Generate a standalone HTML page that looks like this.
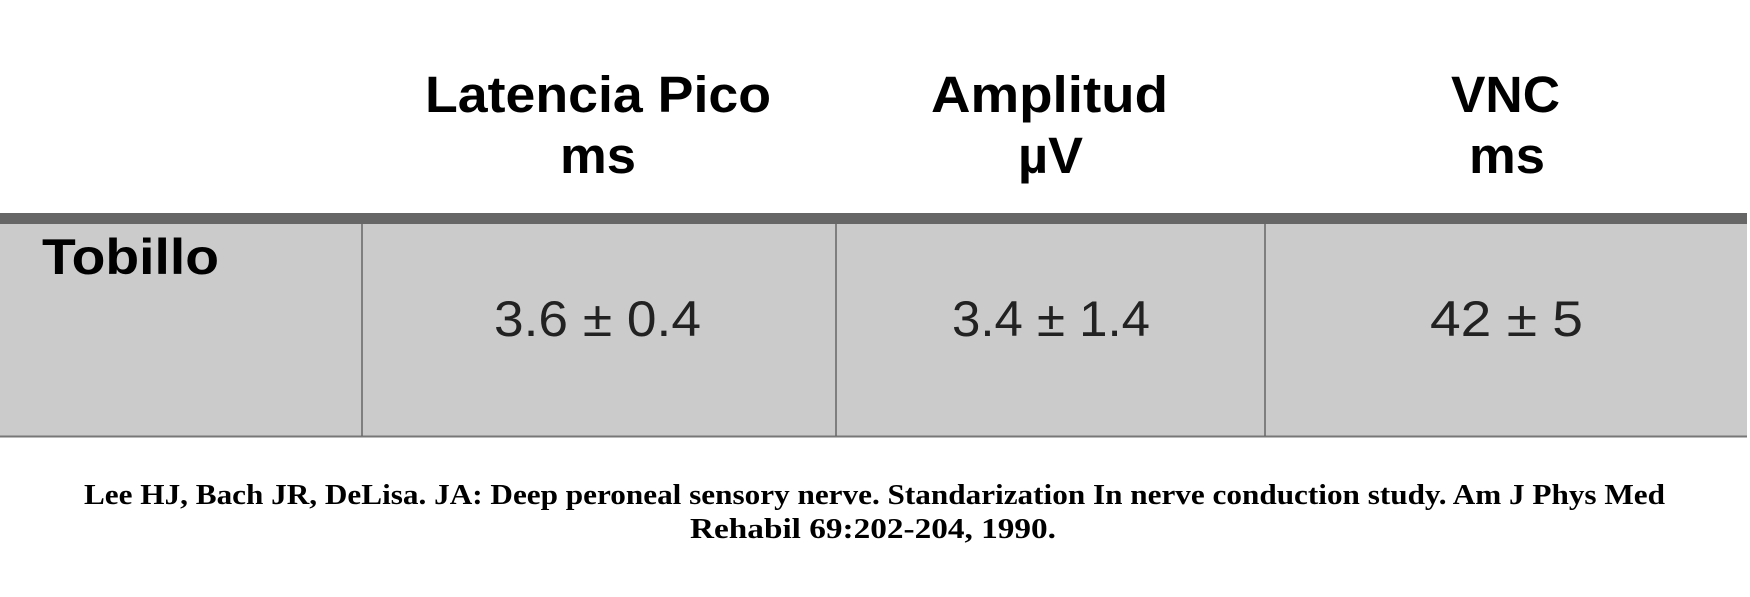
<!DOCTYPE html>
<html><head><meta charset="utf-8"><style>html,body{margin:0;padding:0;background:#fff;}svg{display:block;}</style></head>
<body>
<svg width="1750" height="597" viewBox="0 0 1750 597" xmlns="http://www.w3.org/2000/svg">
<rect x="0" y="213" width="1747" height="224" fill="#cbcbcb"/>
<rect x="0" y="213" width="1747" height="11" fill="#666"/>
<line x1="0" y1="436.5" x2="1747" y2="436.5" stroke="#777" stroke-width="2"/>
<g stroke="#666" stroke-width="1.5">
<line x1="362" y1="224" x2="362" y2="436"/><line x1="836" y1="224" x2="836" y2="436"/><line x1="1265" y1="224" x2="1265" y2="436"/>
</g>
<g font-family="Liberation Sans, sans-serif" font-weight="bold" font-size="51" fill="#000">
<text x="425" y="112" textLength="346" lengthAdjust="spacingAndGlyphs">Latencia Pico</text>
<text x="560" y="173" textLength="76" lengthAdjust="spacingAndGlyphs">ms</text>
<text x="931" y="112" textLength="237" lengthAdjust="spacingAndGlyphs">Amplitud</text>
<text x="1018" y="173" textLength="65" lengthAdjust="spacingAndGlyphs">µV</text>
<text x="1451" y="112" textLength="109" lengthAdjust="spacingAndGlyphs">VNC</text>
<text x="1469" y="173" textLength="76" lengthAdjust="spacingAndGlyphs">ms</text>
</g>
<text x="42" y="274" font-family="Liberation Sans, sans-serif" font-weight="bold" font-size="50" fill="#000" textLength="177" lengthAdjust="spacingAndGlyphs">Tobillo</text>
<g font-family="Liberation Sans, sans-serif" font-size="50" fill="#222">
<text x="494" y="336" textLength="207" lengthAdjust="spacingAndGlyphs">3.6 ± 0.4</text>
<text x="952" y="336" textLength="198" lengthAdjust="spacingAndGlyphs">3.4 ± 1.4</text>
<text x="1430" y="336" textLength="153" lengthAdjust="spacingAndGlyphs">42 ± 5</text>
</g>
<g font-family="Liberation Serif, serif" font-weight="bold" font-size="28" fill="#000">
<text x="84" y="504" textLength="1581" lengthAdjust="spacingAndGlyphs">Lee HJ, Bach JR, DeLisa. JA: Deep peroneal sensory nerve. Standarization In nerve conduction study. Am J Phys Med</text>
<text x="690" y="538" textLength="366" lengthAdjust="spacingAndGlyphs">Rehabil 69:202-204, 1990.</text>
</g>
</svg>
</body></html>
